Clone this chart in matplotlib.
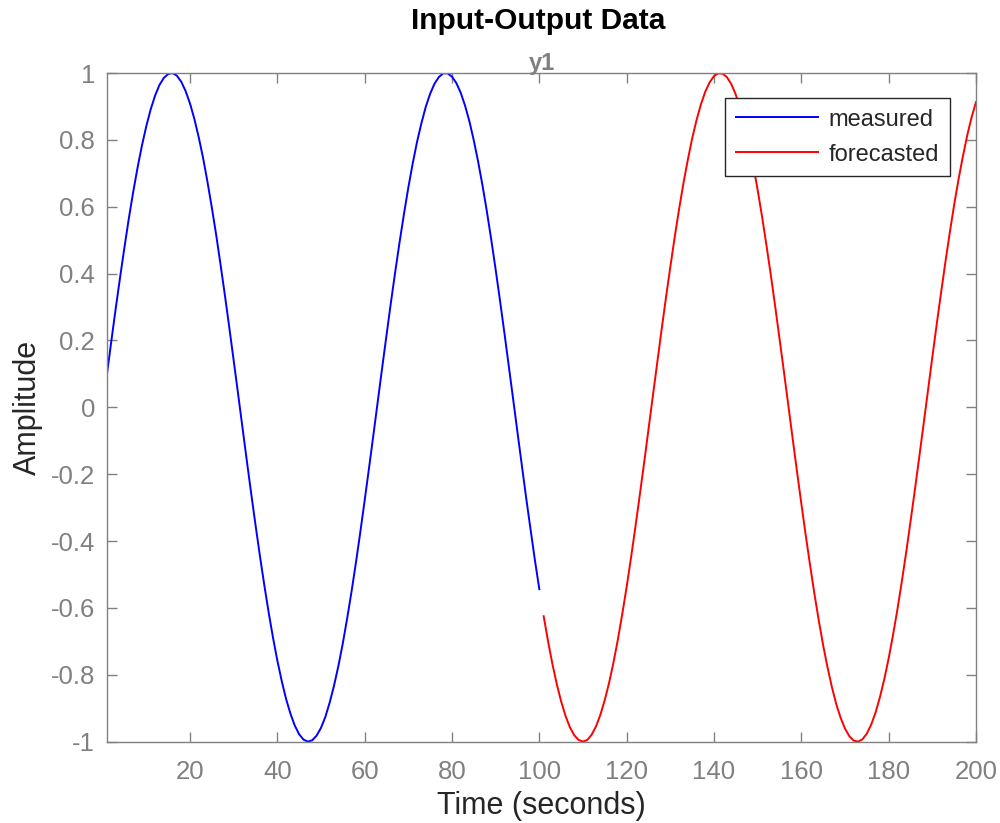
import numpy as np
import matplotlib
matplotlib.use("Agg")
import matplotlib.pyplot as plt

plt.rcParams['font.family'] = ['Liberation Sans', 'DejaVu Sans']

# Datos (un punto por segundo)
time_measured = np.arange(1, 101)
measured = [0.100, 0.199, 0.296, 0.389, 0.479, 0.565, 0.644, 0.717, 0.783, 0.841,
            0.891, 0.932, 0.964, 0.985, 0.997, 1.000, 0.992, 0.974, 0.946, 0.909,
            0.863, 0.808, 0.746, 0.675, 0.598, 0.516, 0.427, 0.335, 0.239, 0.141,
            0.042, -0.058, -0.158, -0.256, -0.351, -0.443, -0.530, -0.612, -0.688, -0.757,
            -0.818, -0.872, -0.916, -0.952, -0.978, -0.994, -1.000, -0.996, -0.982, -0.959,
            -0.926, -0.883, -0.832, -0.773, -0.706, -0.631, -0.551, -0.465, -0.374, -0.279,
            -0.182, -0.083, 0.017, 0.117, 0.215, 0.312, 0.405, 0.494, 0.578, 0.657,
            0.729, 0.794, 0.850, 0.899, 0.938, 0.968, 0.988, 0.999, 0.999, 0.989,
            0.970, 0.941, 0.902, 0.855, 0.798, 0.734, 0.663, 0.585, 0.501, 0.412,
            0.319, 0.223, 0.124, 0.025, -0.075, -0.174, -0.272, -0.366, -0.458, -0.544]

time_forecast = np.arange(101, 201)
forecasted = [-0.625, -0.700, -0.768, -0.828, -0.880, -0.923, -0.957, -0.981, -0.995, -1.000,
              -0.995, -0.979, -0.954, -0.919, -0.875, -0.823, -0.762, -0.694, -0.618, -0.537,
              -0.450, -0.358, -0.263, -0.166, -0.066, 0.034, 0.133, 0.232, 0.328, 0.420,
              0.509, 0.592, 0.670, 0.740, 0.804, 0.859, 0.906, 0.944, 0.972, 0.991,
              0.999, 0.998, 0.987, 0.966, 0.935, 0.895, 0.846, 0.788, 0.723, 0.650,
              0.571, 0.486, 0.397, 0.303, 0.206, 0.108, 0.008, -0.092, -0.191, -0.288,
              -0.382, -0.472, -0.558, -0.638, -0.712, -0.778, -0.837, -0.888, -0.929, -0.961,
              -0.984, -0.997, -1.000, -0.993, -0.976, -0.949, -0.913, -0.867, -0.813, -0.751,
              -0.681, -0.605, -0.522, -0.435, -0.342, -0.247, -0.149, -0.050, 0.050, 0.150,
              0.248, 0.343, 0.435, 0.523, 0.606, 0.682, 0.751, 0.814, 0.868, 0.913]

x_ticks = [20, 40, 60, 80, 100, 120, 140, 160, 180, 200]
y_ticks = [-1, -0.8, -0.6, -0.4, -0.2, 0, 0.2, 0.4, 0.6, 0.8, 1]
y_labels = ['-1', '-0.8', '-0.6', '-0.4', '-0.2', '0', '0.2', '0.4', '0.6', '0.8', '1']

gris = '#808080'
oscuro = '#262626'

fig = plt.figure(figsize=(10, 8.23), dpi=100)
ax = fig.add_axes([0.107, 0.0989, 0.869, 0.8124])

ax.plot(time_measured, measured, color='#0000ff', linewidth=1.4, label='measured')
ax.plot(time_forecast, forecasted, color='#ff0000', linewidth=1.4, label='forecasted')

ax.set_xlim(1, 200)
ax.set_ylim(-1, 1)
ax.set_xticks(x_ticks)
ax.set_yticks(y_ticks)
ax.set_yticklabels(y_labels)

# Estilo tipo MATLAB
ax.tick_params(direction='in', length=7, width=1, colors=gris, labelsize=18.5,
               top=True, right=True)
ax.tick_params(axis='x', pad=13)
ax.tick_params(axis='y', pad=8.5)
for s in ax.spines.values():
    s.set_color(gris)
    s.set_linewidth(1)

ax.set_xlabel('Time (seconds)', fontsize=22, color=oscuro, labelpad=5.5)
ax.set_ylabel('Amplitude', fontsize=22, color=oscuro, labelpad=6)
ax.set_title('y1', fontsize=17, color=gris, fontweight='bold', pad=2)
fig.text(0.5385, 0.9648, 'Input-Output Data', ha='center', va='baseline',
         fontsize=21.5, fontweight='bold', color='black')

leg = ax.legend(loc='upper right', bbox_to_anchor=(0.970, 0.9626), borderaxespad=0,
                fontsize=17, fancybox=False, framealpha=1, edgecolor=oscuro,
                handlelength=3.5, handletextpad=0.45, borderpad=0.45,
                labelspacing=0.55)
leg.get_frame().set_linewidth(1)
for t in leg.get_texts():
    t.set_color(oscuro)

fig.savefig('out.png', dpi=100)
